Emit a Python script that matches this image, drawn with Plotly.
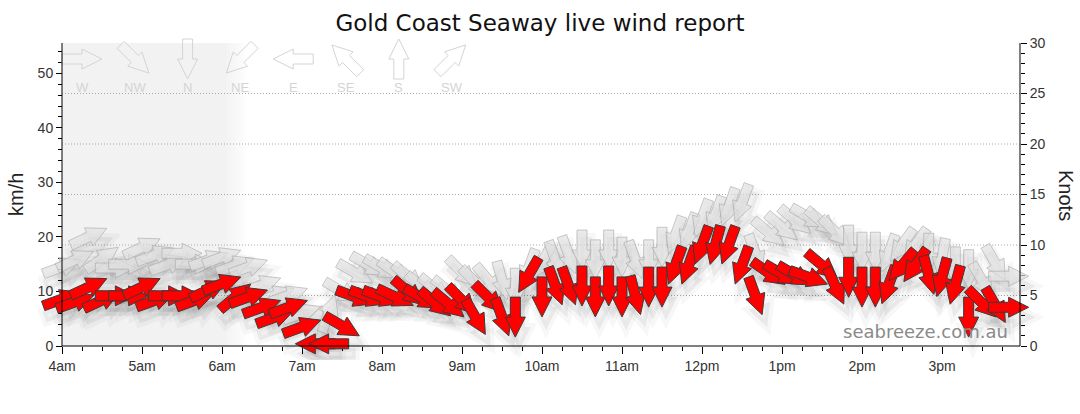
import math
import plotly.graph_objects as go

# ---------------- data ----------------
times = ["04:00", "04:10", "04:20", "04:30", "04:40", "04:50",
         "05:00", "05:10", "05:20", "05:30", "05:40", "05:50",
         "06:00", "06:10", "06:20", "06:30", "06:40", "06:50",
         "07:00", "07:10", "07:20", "07:30", "07:40", "07:50",
         "08:00", "08:10", "08:20", "08:30", "08:40", "08:50",
         "09:00", "09:10", "09:20", "09:30", "09:40", "09:50",
         "10:00", "10:10", "10:20", "10:30", "10:40", "10:50",
         "11:00", "11:10", "11:20", "11:30", "11:40", "11:50",
         "12:00", "12:10", "12:20", "12:30", "12:40", "12:50",
         "13:00", "13:10", "13:20", "13:30", "13:40", "13:50",
         "14:00", "14:10", "14:20", "14:30", "14:40", "14:50",
         "15:00", "15:10", "15:20", "15:30", "15:40", "15:50"]

# average wind speed (km/h) and direction the wind comes from (degrees)
avg_kmh = [8.6, 8.1, 10.8, 8.4, 9.2, 9.2,
           10.8, 8.4, 9.2, 9.2, 8.4, 10.3,
           11.4, 9.0, 9.0, 7.1, 5.3, 7.1,
           3.5, 0.4, 0.4, 3.7, 9.0, 9.0,
           9.0, 9.0, 9.9, 8.8, 7.9, 7.7,
           8.4, 5.3, 8.8, 5.3, 5.3, 13.0,
           9.0, 11.0, 11.0, 11.0, 9.0, 11.0,
           9.0, 9.3, 10.8, 10.8, 14.8, 14.8,
           18.5, 18.5, 18.5, 14.8, 9.2, 13.4,
           13.2, 13.0, 12.6, 14.8, 11.0, 12.6,
           10.8, 10.8, 11.2, 14.8, 14.8, 13.0,
           12.6, 11.2, 5.3, 7.9, 7.5, 7.1]
avg_dir = [250, 250, 245, 245, 270, 270,
           245, 250, 270, 270, 250, 245,
           250, 230, 250, 250, 250, 250,
           250, 90, 90, 300, 290, 290,
           290, 295, 310, 300, 310, 310,
           315, 330, 315, 340, 0, 30,
           0, 340, 340, 0, 0, 0,
           0, 345, 0, 0, 20, 20,
           20, 15, 20, 20, 340, 305,
           300, 300, 290, 310, 335, 0,
           0, 0, 20, 40, 35, 345,
           15, 15, 0, 315, 330, 270]

# gust speed (km/h) and direction
gust_kmh = [14.5, 15.8, 20.0, 16.0, 14.3, 15.0,
            18.1, 16.7, 15.0, 17.0, 15.0, 15.8,
            16.3, 14.8, 14.5, 11.2, 9.3, 9.3,
            6.0, 4.0, 6.0, 10.0, 13.4, 14.8,
            14.3, 13.5, 12.6, 10.8, 10.4, 10.0,
            13.5, 11.7, 12.0, 12.0, 10.6, 14.3,
            15.4, 15.8, 16.7, 17.6, 15.8, 17.6,
            16.3, 15.8, 15.8, 18.1, 20.3, 20.9,
            23.4, 24.0, 25.5, 26.2, 17.0, 20.8,
            21.8, 23.0, 23.6, 22.7, 20.9, 18.5,
            17.2, 17.2, 17.0, 18.5, 18.5, 17.0,
            16.1, 14.5, 14.0, 12.0, 15.2, 12.8]
gust_dir = [250, 245, 245, 235, 270, 270,
            245, 250, 250, 270, 270, 250,
            250, 250, 250, 250, 250, 250,
            250, 200, 200, 300, 300, 300,
            300, 305, 310, 310, 310, 310,
            315, 315, 320, 345, 0, 20,
            30, 340, 340, 0, 0, 0,
            0, 340, 0, 0, 20, 20,
            20, 20, 20, 20, 340, 310,
            310, 310, 300, 310, 315, 0,
            0, 0, 20, 35, 35, 0,
            10, 0, 0, 330, 330, 270]

hour_vals = [4, 5, 6, 7, 8, 9, 10, 11, 12, 13, 14, 15]
hour_labels = ["4am", "5am", "6am", "7am", "8am", "9am", "10am", "11am",
               "12pm", "1pm", "2pm", "3pm"]
kmh_ticks = [0, 10, 20, 30, 40, 50]
knot_ticks = [0, 5, 10, 15, 20, 25, 30]
knot_grid = [5, 10, 15, 20, 25]
compass_labels = ["W", "NW", "N", "NE", "E", "SE", "S", "SW"]
compass_dirs = [270, 315, 0, 45, 90, 135, 180, 225]
dark_until = "06:04"   # end of the night shading
fade_until = "06:19"

KMH_PER_KNOT = 1.852
X_MIN, X_MAX = 4.0, 15.975          # visible time span (hours)
Y_MAX_KNOTS = 30
Y_MAX_KMH = Y_MAX_KNOTS * KMH_PER_KNOT

# the drawing area is a little larger than the framed chart so that arrows
# near the edges are not cut off (the axes are drawn at the frame edges)
PAD_H = 0.3                          # hours of padding left / right
PAD_KMH = 2.567                      # km/h of padding below zero
PLOT_W, PLOT_H = 1006, 317           # pixel size of the drawing area
ML, MT = 38, 43


def px_x(px):      # page pixel -> paper fraction
    return (px - ML) / PLOT_W


def px_y(py):
    return (MT + PLOT_H - py) / PLOT_H


def to_hours(t):
    return int(t[:2]) + int(t[3:]) / 60.0


hours = [to_hours(t) for t in times]

ARROW = [(-20, -5), (0, -5), (0, -10), (20, 0), (0, 10), (0, 5), (-20, 5)]


def arrow_path(deg_from, scale=1.0, ox=0.0, oy=0.0):
    b = math.radians(deg_from + 180.0)
    ux, uy = math.sin(b), math.cos(b)      # pointing vector (y up)
    px, py = -uy, ux
    pts = []
    for a, c in ARROW:
        X = (a * ux + c * px) * scale + ox
        Y = (a * uy + c * py) * scale + oy
        pts.append(f"{X:.1f},{Y:.1f}")
    return "M" + " L".join(pts) + " Z"


shapes = []

# night shading with a soft edge
h_dark = to_hours(dark_until)
h_fade = to_hours(fade_until)
shapes.append(dict(type="rect", xref="x", yref="y", x0=X_MIN, x1=h_dark,
                   y0=0, y1=Y_MAX_KMH, fillcolor="#f2f2f2",
                   line=dict(width=0), layer="below"))
n_fade = 12
for i in range(n_fade):
    a0 = h_dark + (h_fade - h_dark) * i / n_fade
    a1 = h_dark + (h_fade - h_dark) * (i + 1) / n_fade
    shapes.append(dict(type="rect", xref="x", yref="y", x0=a0, x1=a1,
                       y0=0, y1=Y_MAX_KMH, fillcolor="#f2f2f2",
                       opacity=1 - (i + 0.5) / n_fade,
                       line=dict(width=0), layer="below"))

# dotted knot gridlines
for k in knot_grid:
    shapes.append(dict(type="line", xref="x", yref="y2", x0=X_MIN, x1=X_MAX,
                       y0=k, y1=k, line=dict(color="#a8a8a8", width=1,
                                             dash="1px,2px"),
                       layer="below"))

# compass legend
for i, (lab, d) in enumerate(zip(compass_labels, compass_dirs)):
    shapes.append(dict(type="path", xref="paper", yref="paper",
                       xsizemode="pixel", ysizemode="pixel",
                       xanchor=px_x(82 + 52.8 * i), yanchor=px_y(59),
                       path=arrow_path(d), fillcolor="rgba(0,0,0,0)",
                       line=dict(color="#d4d4d4", width=1)))


def add_shadow(h, s, d):
    shapes.append(dict(type="path", xref="x", yref="y",
                       xsizemode="pixel", ysizemode="pixel",
                       xanchor=h, yanchor=s,
                       path=arrow_path(d, 1.15, 4, -10),
                       fillcolor="rgba(0,0,0,0.055)",
                       line=dict(color="rgba(0,0,0,0.03)", width=8)))


for h, s, d in zip(hours, gust_kmh, gust_dir):
    add_shadow(h, s, d)
for h, s, d in zip(hours, avg_kmh, avg_dir):
    add_shadow(h, s, d)

for h, s, d in zip(hours, gust_kmh, gust_dir):
    shapes.append(dict(type="path", xref="x", yref="y",
                       xsizemode="pixel", ysizemode="pixel",
                       xanchor=h, yanchor=s, path=arrow_path(d),
                       fillcolor="rgba(222,222,222,0.65)",
                       line=dict(color="rgba(160,160,160,0.55)", width=1)))

for h, s, d in zip(hours, avg_kmh, avg_dir):
    shapes.append(dict(type="path", xref="x", yref="y",
                       xsizemode="pixel", ysizemode="pixel",
                       xanchor=h, yanchor=s, path=arrow_path(d),
                       fillcolor="#ff0000",
                       line=dict(color="#3a3a3a", width=1)))

# frame lines (left, right, bottom) at the edges of the visible span
axis_line = dict(color="#000000", width=1)
shapes.append(dict(type="line", xref="x", yref="y", x0=X_MIN, x1=X_MAX,
                   y0=0, y1=0, line=axis_line))
shapes.append(dict(type="line", xref="x", yref="y", x0=X_MIN, x1=X_MIN,
                   y0=0, y1=Y_MAX_KMH, line=axis_line))
shapes.append(dict(type="line", xref="x", yref="y", x0=X_MAX, x1=X_MAX,
                   y0=0, y1=Y_MAX_KMH, line=axis_line))

fig = go.Figure()
fig.add_trace(go.Scatter(x=hours, y=avg_kmh, mode="markers",
                         marker=dict(opacity=0, size=10),
                         name="Average", showlegend=False,
                         hovertemplate="%{y} km/h<extra></extra>"))
fig.add_trace(go.Scatter(x=hours, y=[g / KMH_PER_KNOT for g in gust_kmh],
                         mode="markers", marker=dict(opacity=0, size=10),
                         yaxis="y2", name="Gust", showlegend=False,
                         hovertemplate="%{y:.1f} kts<extra></extra>"))

tick_font = dict(family="Liberation Sans, Arial, sans-serif", size=14,
                 color="#333333")

annotations = [
    dict(text="km/h", xref="paper", yref="paper", x=px_x(16), y=px_y(195),
         xanchor="center", yanchor="middle",
         textangle=-90, showarrow=False,
         font=dict(family="Liberation Sans, Arial, sans-serif", size=20,
                   color="#222222")),
    dict(text="Knots", xref="paper", yref="paper", x=px_x(1066),
         y=px_y(195), xanchor="center", yanchor="middle",
         textangle=90, showarrow=False,
         font=dict(family="Liberation Sans, Arial, sans-serif", size=20,
                   color="#222222")),
    dict(text="seabreeze.com.au", xref="paper", yref="paper", x=px_x(1010),
         y=px_y(331), xanchor="right", yanchor="middle", showarrow=False,
         font=dict(family="DejaVu Sans, Verdana, sans-serif", size=18,
                   color="#8a8a8a")),
]
for i, lab in enumerate(compass_labels):
    annotations.append(dict(text=lab, xref="paper", yref="paper",
                            x=px_x(82 + 52.8 * i), y=px_y(87),
                            xanchor="center", yanchor="middle",
                            showarrow=False,
                            font=dict(family="Liberation Sans, Arial, sans-serif",
                                      size=13, color="#d4d4d4")))

x_minor = [X_MIN + 0.25 * i for i in range(48) if i % 4]
kmh_minor = [v for v in range(2, 56, 2) if v % 10]
knot_minor = [v for v in range(1, 30) if v % 5]

fig.update_layout(
    width=1080, height=414,
    margin=dict(l=ML, r=1080 - ML - PLOT_W, t=MT, b=414 - MT - PLOT_H,
                autoexpand=False),
    paper_bgcolor="white", plot_bgcolor="white",
    title=dict(text="Gold Coast Seaway live wind report", x=0.5,
               xanchor="center", y=0.944, yanchor="middle",
               font=dict(family="DejaVu Sans, Verdana, sans-serif", size=23,
                         color="#111111")),
    xaxis=dict(range=[X_MIN - PAD_H, X_MAX + PAD_H], anchor="free",
               position=PAD_KMH / (Y_MAX_KMH + PAD_KMH),
               tickmode="array", tickvals=hour_vals,
               ticktext=hour_labels, ticks="outside", ticklen=7,
               tickcolor="#000", showline=False, showgrid=False,
               zeroline=False, tickfont=tick_font,
               minor=dict(tickmode="array", tickvals=x_minor,
                          ticks="outside", ticklen=4, tickcolor="#000",
                          showgrid=False)),
    yaxis=dict(range=[-PAD_KMH, Y_MAX_KMH], anchor="free",
               position=PAD_H / (X_MAX - X_MIN + 2 * PAD_H),
               tickmode="array", tickvals=kmh_ticks, ticks="outside",
               ticklen=6, tickcolor="#000", showline=False,
               showgrid=False, zeroline=False, tickfont=tick_font,
               minor=dict(tickmode="array", tickvals=kmh_minor,
                          ticks="outside", ticklen=4, tickcolor="#000",
                          showgrid=False)),
    yaxis2=dict(range=[-PAD_KMH / KMH_PER_KNOT, Y_MAX_KNOTS],
                overlaying="y", side="right", anchor="free",
                position=1 - PAD_H / (X_MAX - X_MIN + 2 * PAD_H),
                tickmode="array", tickvals=knot_ticks, ticks="outside",
                ticklen=6, tickcolor="#000", showline=False,
                showgrid=False, zeroline=False, tickfont=tick_font,
                minor=dict(tickmode="array", tickvals=knot_minor,
                           ticks="outside", ticklen=4, tickcolor="#000",
                           showgrid=False)),
    shapes=shapes,
    annotations=annotations,
    showlegend=False,
)

fig.write_html("out.html", config={"displayModeBar": False},
               post_script="document.body.style.margin='0px';"
                           "document.body.style.overflow='hidden';")
